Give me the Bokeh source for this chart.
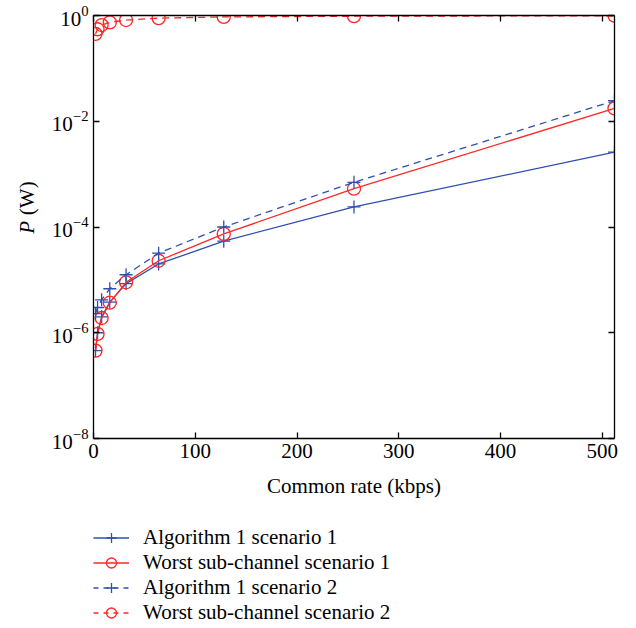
import math
from bokeh.plotting import figure
from bokeh.layouts import row, column
from bokeh.models import (Range1d, LinearAxis, FixedTicker, Legend, LegendItem,
                          CustomJSTickFormatter)
from bokeh.core.properties import value
from bokeh.embed import file_html
from bokeh.resources import INLINE

# ---- data ----
rate = [2, 4, 8, 16, 32, 64, 128, 256, 512]
alg1_s1 = [4.6e-7, 1.0e-6, 2.0e-6, 3.8e-6, 8.5e-6, 2.0e-5, 5.4e-5, 2.4e-4, 2.6e-3]
worst_s1 = [4.6e-7, 9.5e-7, 1.9e-6, 3.7e-6, 9.0e-6, 2.3e-5, 7.4e-5, 5.3e-4, 1.75e-2]
alg1_s2 = [2.3e-6, 3.0e-6, 4.2e-6, 6.8e-6, 1.25e-5, 3.2e-5, 1.0e-4, 7.0e-4, 2.45e-2]
worst_s2 = [0.45, 0.55, 0.66, 0.74, 0.82, 0.89, 0.94, 0.97, 0.99]

x_ticks = [0, 100, 200, 300, 400, 500]
y_ticks = [1e-8, 1e-6, 1e-4, 1e-2, 1]
labels = ["Algorithm 1 scenario 1", "Worst sub-channel scenario 1",
          "Algorithm 1 scenario 2", "Worst sub-channel scenario 2"]
series = [alg1_s1, worst_s1, alg1_s2, worst_s2]

BLUE = "#2f4fae"
RED = "#ff2626"
FONT = "Liberation Serif"
FS = "21px"

styles = [
    (BLUE, "solid", "cross"),
    (RED, "solid", "circle"),
    (BLUE, "5 5", "cross"),
    (RED, "5 5", "circle"),
]

# ---------- main plot ----------
p = figure(width=596, height=500, y_axis_type="log",
           x_range=Range1d(0, 512), y_range=Range1d(1e-8, 1),
           output_backend="svg", toolbar_location=None,
           min_border_left=53, min_border_right=22, min_border_top=15,
           min_border_bottom=62)
p.outline_line_color = None
p.grid.visible = False


def style_axis(ax, show_labels=True):
    ax.major_tick_in = 6
    ax.major_tick_out = 0
    ax.minor_tick_in = 0
    ax.minor_tick_out = 0
    ax.axis_line_color = "black"
    ax.axis_line_width = 1.3
    ax.major_tick_line_color = "black"
    ax.major_tick_line_width = 1.3
    ax.major_label_text_font = FONT
    ax.major_label_text_font_size = FS
    ax.major_label_text_color = "black"
    ax.major_label_standoff = 5 if show_labels else 0
    ax.axis_label_text_font = FONT
    ax.axis_label_text_font_size = FS
    ax.axis_label_text_font_style = "normal"
    ax.axis_label_text_color = "black"
    if not show_labels:
        ax.formatter = CustomJSTickFormatter(code="return ''")


xa = p.xaxis[0]
xa.ticker = FixedTicker(ticks=x_ticks)
xa.axis_label = "Common rate (kbps)"
xa.axis_label_standoff = 13
style_axis(xa)

ya = p.yaxis[0]
ya.ticker = FixedTicker(ticks=y_ticks)
ya.axis_label = None
style_axis(ya)

top = LinearAxis(ticker=FixedTicker(ticks=x_ticks))
style_axis(top, False)
p.add_layout(top, "above")
right = LinearAxis(ticker=FixedTicker(ticks=y_ticks))
style_axis(right, False)
p.add_layout(right, "right")


def draw(fig, xs, ys, col, dash, mk, size):
    lr = fig.line(xs, ys, line_color=col, line_width=1.3,
                  line_dash=("7 5" if dash != "solid" and fig is p else dash))
    if mk == "cross":
        sr = fig.scatter(xs, ys, marker="cross", size=size, line_color=col, line_width=1.3)
    else:
        sr = fig.scatter(xs, ys, marker="circle", size=size, line_color=col,
                         fill_color=None, line_width=1.3)
    return lr, sr


for vals, (col, dash, mk) in zip(series, styles):
    draw(p, rate, vals, col, dash, mk, 13)

# ---------- y-axis label strip ----------
yl = figure(width=40, height=500, x_range=Range1d(0, 40), y_range=Range1d(0, 500),
            output_backend="svg", toolbar_location=None,
            x_axis_location=None, y_axis_location=None, min_border=0)
yl.outline_line_color = None
yl.grid.visible = False
yl.text(x=[26], y=[500 - 258], text=["P"], angle=math.pi / 2,
        text_font=value(FONT), text_font_size=FS, text_font_style="italic",
        text_align="left", text_baseline="middle", text_color="black")
yl.text(x=[26], y=[500 - 236], text=["(W)"], angle=math.pi / 2,
        text_font=value(FONT), text_font_size=FS,
        text_align="left", text_baseline="middle", text_color="black")

# ---------- legend strip (series drawn off-range, used only for legend glyphs) ----------
lg = figure(width=636, height=128, x_range=Range1d(-2, -1), y_range=Range1d(-2, -1),
            output_backend="svg", toolbar_location=None,
            x_axis_location=None, y_axis_location=None, min_border=0)
lg.outline_line_color = None
lg.grid.visible = False
items = []
for lab, vals, (col, dash, mk) in zip(labels, series, styles):
    lr, sr = draw(lg, rate, vals, col, dash, mk, 9)
    items.append(LegendItem(label=lab, renderers=[lr, sr]))

leg = Legend(items=items, location=(93, 3), orientation="vertical",
             label_text_font=FONT, label_text_font_size=FS, label_text_color="black",
             glyph_width=36, glyph_height=25, label_height=25, label_standoff=14,
             spacing=0, padding=0, margin=0, border_line_color=None,
             background_fill_alpha=0)
lg.add_layout(leg, "center")

layout = column(row(yl, p, spacing=0), lg, spacing=0)

open("out.html", "w").write(file_html(layout, INLINE))
